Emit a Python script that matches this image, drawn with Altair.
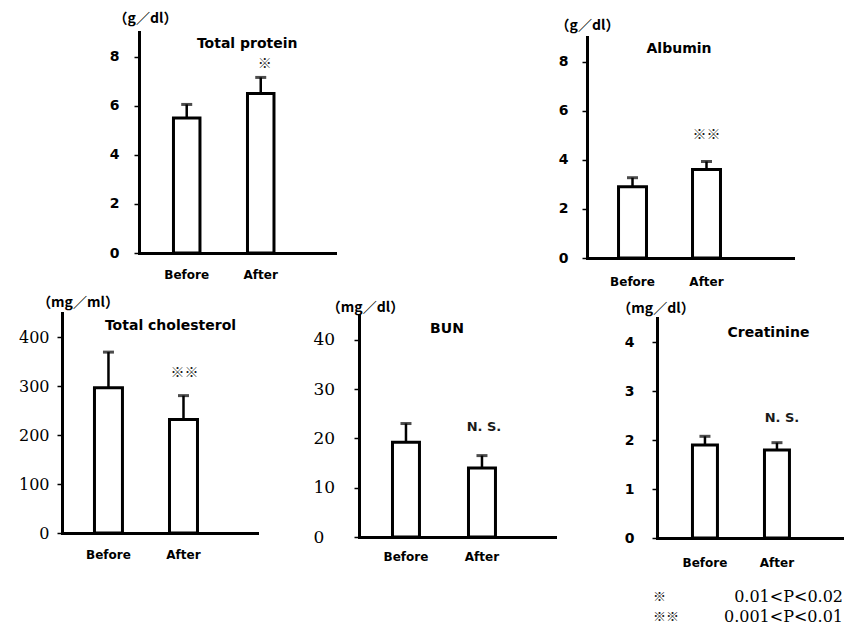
import altair as alt
import pandas as pd

# ---------------- data ----------------
panel_names = ["Total protein", "Albumin", "Total cholesterol", "BUN", "Creatinine"]
unit_labels = ["（g／dl）", "（g／dl）", "（mg／ml）", "（mg／dl）", "（mg／dl）"]
phases = ["Before", "After"]
before_mean = [5.5, 2.9, 297, 19.2, 1.9]
before_sd = [0.55, 0.37, 73, 3.8, 0.18]
after_mean = [6.5, 3.6, 232, 14.0, 1.8]
after_sd = [0.65, 0.33, 49, 2.5, 0.15]
axis_max = [9, 9, 450, 45, 4.5]
tick_values = [[0, 2, 4, 6, 8], [0, 2, 4, 6, 8], [0, 100, 200, 300, 400],
               [0, 10, 20, 30, 40], [0, 1, 2, 3, 4]]
sig_labels = ["※", "※※", "※※", "N. S.", "N. S."]
sig_y = [7.7, 5.0, 327, 22.2, 2.45]
title_y = [8.5, 8.5, 424, 42.2, 4.2]
legend_marks = ["※", "※※"]
legend_texts = ["0.01<P<0.02", "0.001<P<0.01"]

# ---------------- layout (pixels) ----------------
W, H = 844, 629
SANS = "DejaVu Sans"
SERIF = "DejaVu Serif"
CJK = "Noto Sans CJK JP"

layout = [
    dict(xr=[139, 335], yr=[253, 32], pi=0.642, po=0.645, al=0.361,
         lfont=SANS, lweight="bold", lsize=14,
         lalign="right", lpad=15, tx=6, ty=18, xpad=16, tdx=-13.5, sdx=4),
    dict(xr=[587, 793], yr=[258, 37], pi=0.622, po=0.703, al=0.303,
         lfont=SANS, lweight="bold", lsize=14,
         lalign="right", lpad=14, tx=0, ty=25, xpad=18, tdx=-27.5, sdx=0),
    dict(xr=[62, 257], yr=[533, 313], pi=0.627, po=0.613, al=0.353,
         lfont=SERIF, lweight="normal", lsize=16,
         lalign="right", lpad=8, tx=15.5, ty=302, xpad=16, tdx=-13, sdx=1),
    dict(xr=[359, 555], yr=[537, 315], pi=0.645, po=0.612, al=0.36,
         lfont=SERIF, lweight="normal", lsize=17,
         lalign="left", lpad=41, tx=6, ty=307, xpad=14, tdx=-35, sdx=2),
    dict(xr=[657, 844], yr=[538, 318], pi=0.653, po=0.625, al=0.394,
         lfont=SANS, lweight="bold", lsize=14,
         lalign="right", lpad=18, tx=-1.5, ty=308, xpad=19, tdx=-8.5, sdx=5),
]


def make_panel(i):
    L = layout[i]
    df = pd.DataFrame({
        "phase": phases,
        "mean": [before_mean[i], after_mean[i]],
        "sd": [before_sd[i], after_sd[i]],
    })
    df["upper"] = df["mean"] + df["sd"]

    xscale = alt.Scale(domain=phases, range=L["xr"], paddingInner=L["pi"],
                       paddingOuter=L["po"], align=L["al"])
    yscale = alt.Scale(domain=[0, axis_max[i]], range=L["yr"], nice=False, zero=True)

    xaxis = alt.Axis(orient="bottom", offset=L["yr"][0] - H, title=None, ticks=False,
                     labelAngle=0, labelFont=SANS, labelFontWeight="bold", labelFontSize=12,
                     labelColor="black", labelPadding=L["xpad"], domainColor="black",
                     domainWidth=3, domainCap="square", grid=False)
    yaxis = alt.Axis(orient="left", offset=-L["xr"][0], values=tick_values[i],
                     title=unit_labels[i], titleAngle=0, titleAlign="center",
                     titleBaseline="middle", titleX=L["tx"], titleY=L["ty"],
                     titleFont=CJK, titleFontSize=14, titleFontWeight="bold",
                     titleColor="black", labelFont=L["lfont"],
                     labelFontWeight=L["lweight"], labelFontSize=L["lsize"],
                     labelAlign=L["lalign"], labelBaseline="middle", labelColor="black",
                     labelPadding=L["lpad"], tickSize=5, tickWidth=1.5, tickColor="black",
                     domainColor="black", domainWidth=3, domainCap="square", grid=False)

    x = alt.X("phase:N", scale=xscale, axis=xaxis, sort=phases)
    base = alt.Chart(df)

    bars = base.mark_bar(fill="white", stroke="black", strokeWidth=3).encode(
        x=x, y=alt.Y("mean:Q", scale=yscale, axis=yaxis))
    err = base.mark_rule(color="black", strokeWidth=2.5).encode(
        x=x, y=alt.Y("mean:Q", scale=yscale, axis=yaxis), y2="upper:Q")
    cap = base.mark_tick(color="black", size=11, thickness=3).encode(
        x=x, y=alt.Y("upper:Q", scale=yscale, axis=yaxis))

    is_star = sig_labels[i].startswith("※")
    sig = alt.Chart(pd.DataFrame({"label": [sig_labels[i]]})).mark_text(
        font=CJK if is_star else SANS, fontSize=14 if is_star else 13,
        fontWeight="bold",
        color="#1a1a1a", align="center", baseline="middle",
        dx=L["sdx"]).encode(
        x=alt.X(datum="After", scale=xscale, axis=xaxis),
        y=alt.Y(datum=sig_y[i], scale=yscale, axis=yaxis),
        text="label:N")
    ttl = alt.Chart(pd.DataFrame({"label": [panel_names[i]]})).mark_text(
        font=SANS, fontSize=14, fontWeight="bold", color="black", align="center",
        baseline="middle", dx=L["tdx"]).encode(
        x=alt.X(datum="After", scale=xscale, axis=xaxis),
        y=alt.Y(datum=title_y[i], scale=yscale, axis=yaxis),
        text="label:N")
    return alt.layer(bars, err, cap, sig, ttl)


panels = [make_panel(i) for i in range(5)]

legend_layers = []
for j, (mk, tx) in enumerate(zip(legend_marks, legend_texts)):
    ypix = [597, 617][j]
    one = pd.DataFrame({"mk": [mk], "tx": [tx]})
    legend_layers.append(alt.Chart(one).mark_text(
        font=CJK, fontSize=13, fontWeight="bold", color="#1a1a1a", align="left",
        baseline="middle").encode(x=alt.value(653), y=alt.value(ypix), text="mk:N"))
    legend_layers.append(alt.Chart(one).mark_text(
        font=SERIF, fontSize=16, color="black", align="right", baseline="middle").encode(
        x=alt.value(843), y=alt.value(ypix), text="tx:N"))

chart = alt.layer(*panels, *legend_layers).resolve_scale(
    x="independent", y="independent").resolve_axis(
    x="independent", y="independent").properties(
    width=W, height=H, autosize=alt.AutoSizeParams(type="none"), padding=0,
    background="white").configure_view(stroke=None)

chart.save("out.html", embed_options={"renderer": "svg", "actions": False})
